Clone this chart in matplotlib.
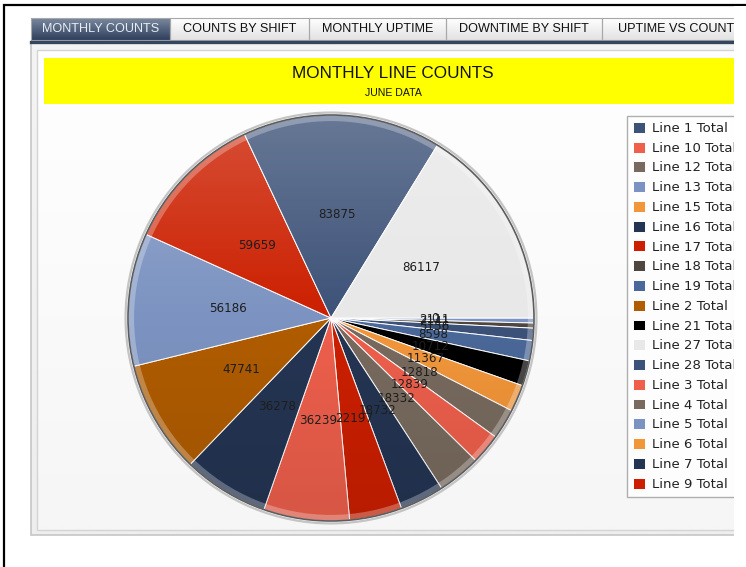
#!/usr/bin/env python
# -*- coding: utf-8 -*-

"""
plot.py

Monthly line counts dashboard panel (June data): pie of totals per line,
with the dashboard tab bar, yellow title banner and a legend on the right.
"""

import matplotlib
matplotlib.use("Agg")
import matplotlib.pyplot as plt
import matplotlib.patches as mpatches
import numpy as np

W, H = 746, 567

# line names in legend order and their June totals
LINES = [
    "Line 1 Total", "Line 10 Total", "Line 12 Total", "Line 13 Total",
    "Line 15 Total", "Line 16 Total", "Line 17 Total", "Line 18 Total",
    "Line 19 Total", "Line 2 Total", "Line 21 Total", "Line 27 Total",
    "Line 28 Total", "Line 3 Total", "Line 4 Total", "Line 5 Total",
    "Line 6 Total", "Line 7 Total", "Line 9 Total",
]
COUNTS = [
    83875, 36239, 12818, 56186,
    11367, 36278, 59659, 2141,
    8598, 47741, 10712, 86117,
    5156, 12839, 18332, 2111,
    0, 18732, 22197,
]
PALETTE = [
    "#3D5278", "#EE5F4C", "#786A5E", "#7C93C1", "#F2963A", "#243553",
    "#CC1F00", "#4E463F", "#4A6899", "#B05C00", "#000000", "#E8E8E8",
]
COLORS = [PALETTE[i % len(PALETTE)] for i in range(len(LINES))]

TABS = ["MONTHLY COUNTS", "COUNTS BY SHIFT", "MONTHLY UPTIME", "DOWNTIME BY SHIFT", "UPTIME VS COUNTS"]
TAB_EDGES = [31, 170, 309, 446, 602, 758]

TITLE = "MONTHLY LINE COUNTS"
SUBTITLE = "JUNE DATA"

PIE_CENTER = (331, 318)
PIE_RADIUS = 203


def vgradient(ax, x0, x1, y0, y1, top, bottom, zorder=1):
    """縦方向グラデーションの矩形（y は下向きピクセル座標）"""
    c0 = np.array(matplotlib.colors.to_rgb(top))
    c1 = np.array(matplotlib.colors.to_rgb(bottom))
    t = np.linspace(0, 1, 64)[:, None, None]
    img = c0 * (1 - t) + c1 * t
    ax.imshow(img, extent=(x0, x1, y1, y0), origin="upper", aspect="auto",
              interpolation="bilinear", zorder=zorder)


def draw_chrome(ax):
    """タブ・パネル枠・タイトル帯"""
    ax.set_xlim(0, W)
    ax.set_ylim(H, 0)
    ax.axis("off")

    # 外枠（黒）
    ax.plot([4, 4, W], [H, 5, 5], color="black", lw=1.6, solid_joinstyle="miter", zorder=5)

    # パネル背景
    vgradient(ax, 31, W, 43, 535, "#f4f4f4", "#eeeeee", zorder=1)
    vgradient(ax, 37, W, 50, 530, "#ffffff", "#f6f6f6", zorder=1)
    ax.add_patch(mpatches.Rectangle((31, 43), W, 492, fill=False, ec="#c6c6c6", lw=1.2, zorder=2))
    ax.add_patch(mpatches.Rectangle((37, 50), W, 480, fill=False, ec="#d4d4d4", lw=1.0, zorder=2))

    # タブ
    for i, label in enumerate(TABS):
        x0, x1 = TAB_EDGES[i], TAB_EDGES[i + 1]
        if i == 0:
            vgradient(ax, x0, x1, 18, 41, "#7a889e", "#2c3c5a", zorder=2)
            color = "#e8edf4"
        else:
            vgradient(ax, x0, x1, 18, 40, "#ffffff", "#e2e2e2", zorder=2)
            color = "#111111"
        ax.add_patch(mpatches.Rectangle((x0, 18), x1 - x0, 22, fill=False, ec="#a8a8a8", lw=0.8, zorder=3))
        ax.text((x0 + x1) / 2, 29, label, ha="center", va="center",
                fontsize=9.1, color=color, family="Liberation Sans", zorder=4)
    ax.plot([31, W], [41.5, 41.5], color="#34455f", lw=2.4, zorder=4)

    # タイトル帯
    ax.add_patch(mpatches.Rectangle((44, 58), W, 46, fc="#ffff00", ec="none", zorder=3))
    ax.text(393, 73, TITLE, ha="center", va="center", fontsize=12.3,
            family="Liberation Sans", color="#111111", zorder=4)
    ax.text(393, 93, SUBTITLE, ha="center", va="center", fontsize=7.6,
            family="Liberation Sans", color="#111111", zorder=4)


def draw_pie(fig):
    """ライン別カウントの円グラフ（小さい順に時計回り）"""
    cx, cy = PIE_CENTER
    r = PIE_RADIUS
    ax = fig.add_axes([(cx - r) / W, (H - cy - r) / H, 2 * r / W, 2 * r / H])

    order = np.argsort(COUNTS, kind="stable")
    values = [COUNTS[i] for i in order]
    colors = [COLORS[i] for i in order]
    total = sum(values)

    wedges, _, autotexts = ax.pie(
        values,
        colors=colors,
        startangle=0,
        counterclock=False,
        radius=1.0,
        autopct=lambda p: f"{round(p * total / 100):d}",
        pctdistance=0.51,
        wedgeprops=dict(edgecolor="white", linewidth=0.7),
        textprops=dict(fontsize=8.6, color="#1e1e1e"),
    )
    ax.set_xlim(-1, 1)
    ax.set_ylim(-1, 1)

    # 上から明るく、下へ少し暗くする陰影
    y = np.linspace(1, -1, 200)
    shade = np.zeros((200, 1, 4))
    shade[:, 0, :3] = np.where(y[:, None] > 0, 1.0, 0.0)
    shade[:, 0, 3] = np.where(y > 0, 0.22 * y, 0.10 * -y)
    im = ax.imshow(shade, extent=(-1, 1, -1, 1), aspect="auto", interpolation="bilinear", zorder=2)
    im.set_clip_path(mpatches.Circle((0, 0), 1.0, transform=ax.transData))

    # 外周のリム
    ax.add_patch(mpatches.Wedge((0, 0), 1.0, 0, 360, width=0.03, fc="white", ec="none", alpha=0.28, zorder=3))
    ax.add_patch(mpatches.Circle((0, 0), 1.0, fill=False, ec="#5c5c5c", lw=1.2, zorder=4, clip_on=False))
    ax.add_patch(mpatches.Circle((0, 0), 1.012, fill=False, ec="#c4c4c4", lw=1.6, zorder=4, clip_on=False))
    for t in autotexts:
        t.set_zorder(5)

    by_line = {LINES[i]: w for i, w in zip(order, wedges)}
    return by_line


def main():
    fig = plt.figure(figsize=(W / 100, H / 100), dpi=100)
    fig.patch.set_facecolor("white")

    ax_bg = fig.add_axes([0, 0, 1, 1])
    draw_chrome(ax_bg)

    by_line = draw_pie(fig)

    leg = fig.legend(
        handles=[by_line[name] for name in LINES],
        labels=LINES,
        loc="upper left",
        bbox_to_anchor=(627 / W, 1 - 116 / H),
        fontsize=9.5,
        frameon=True,
        fancybox=False,
        edgecolor="#9c9c9c",
        handlelength=0.9,
        handleheight=0.9,
        handletextpad=0.55,
        labelspacing=0.51,
        borderpad=0.45,
        borderaxespad=0,
    )
    leg.get_frame().set_linewidth(1.0)
    for t in leg.get_texts():
        t.set_color("#222222")

    # 右端は表示領域外として白で切る
    fig.add_artist(mpatches.Rectangle((734 / W, 0), 1, 1 - 6 / H, transform=fig.transFigure,
                                      fc="white", ec="none", zorder=20))

    fig.savefig("out.png", dpi=100)


if __name__ == "__main__":
    main()
